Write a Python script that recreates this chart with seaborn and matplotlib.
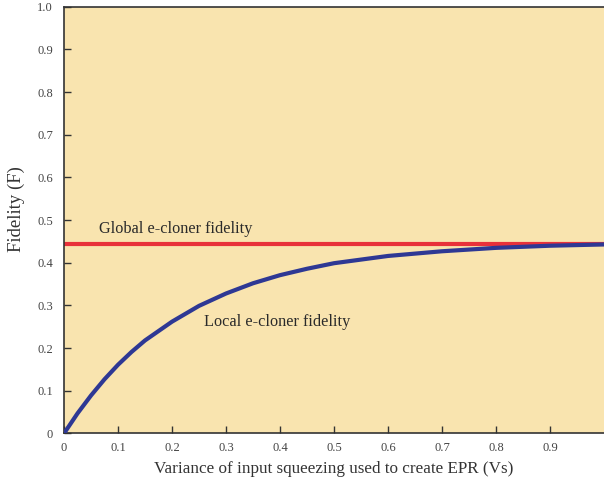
import numpy as np
import pandas as pd
import matplotlib
matplotlib.use("Agg")
import matplotlib.pyplot as plt
import seaborn as sns

# values
vs = [0, 0.025, 0.05, 0.075, 0.1, 0.125, 0.15, 0.2, 0.25, 0.3, 0.35,
      0.4, 0.45, 0.5, 0.6, 0.7, 0.8, 0.9, 1.0]
local_fid = [0, 0.047, 0.089, 0.127, 0.161, 0.191, 0.218, 0.262, 0.299,
             0.328, 0.352, 0.371, 0.386, 0.399, 0.416, 0.427, 0.435, 0.440, 0.443]
global_fid = 4 / 9
xticks = [0, 0.1, 0.2, 0.3, 0.4, 0.5, 0.6, 0.7, 0.8, 0.9]
yticks = [0, 0.1, 0.2, 0.3, 0.4, 0.5, 0.6, 0.7, 0.8, 0.9, 1.0]

sns.set_style("ticks")
plt.rcParams['font.family'] = ['Liberation Serif', 'DejaVu Serif']

fig = plt.figure(figsize=(6.04, 4.87), dpi=100)
ax = fig.add_axes([0.106, 0.110, 0.894, 0.876])
ax.set_facecolor('#F9E4AF')

df = pd.DataFrame({'Vs': vs, 'F': local_fid})
ax.axhline(global_fid, color='#E8313A', lw=3, zorder=2)
sns.lineplot(data=df, x='Vs', y='F', ax=ax, color='#2E3894', lw=3, zorder=3)

ax.text(0.065, 0.48, 'Global e-cloner fidelity', fontsize=11.7, color='#2a2a2a', va='center')
ax.text(0.259, 0.262, 'Local e-cloner fidelity', fontsize=11.7, color='#2a2a2a', va='center')

ax.set_xlim(0, 1)
ax.set_ylim(0, 1)
ax.set_xticks(xticks)
ax.set_xticklabels(['0' if t == 0 else f'{t:.1f}' for t in xticks])
ax.set_yticks(yticks)
ax.set_yticklabels(['0' if t == 0 else f'{t:.1f}' for t in yticks])
ax.tick_params(direction='in', length=5, width=1, labelsize=9, colors='#333333',
               labelcolor='#444444')
ax.tick_params(axis='x', pad=6)
ax.tick_params(axis='y', pad=8)
ax.set_xlabel('Variance of input squeezing used to create EPR (Vs)', fontsize=12.3,
              color='#333333', labelpad=5)
ax.set_ylabel('Fidelity (F)', fontsize=13.5, color='#333333')
ax.yaxis.set_label_coords(-0.072, 0.525)
for s in ['left', 'bottom', 'top']:
    ax.spines[s].set_color('#333333')
    ax.spines[s].set_linewidth(1.2)
ax.spines['right'].set_visible(False)

fig.savefig('out.png', dpi=100)
